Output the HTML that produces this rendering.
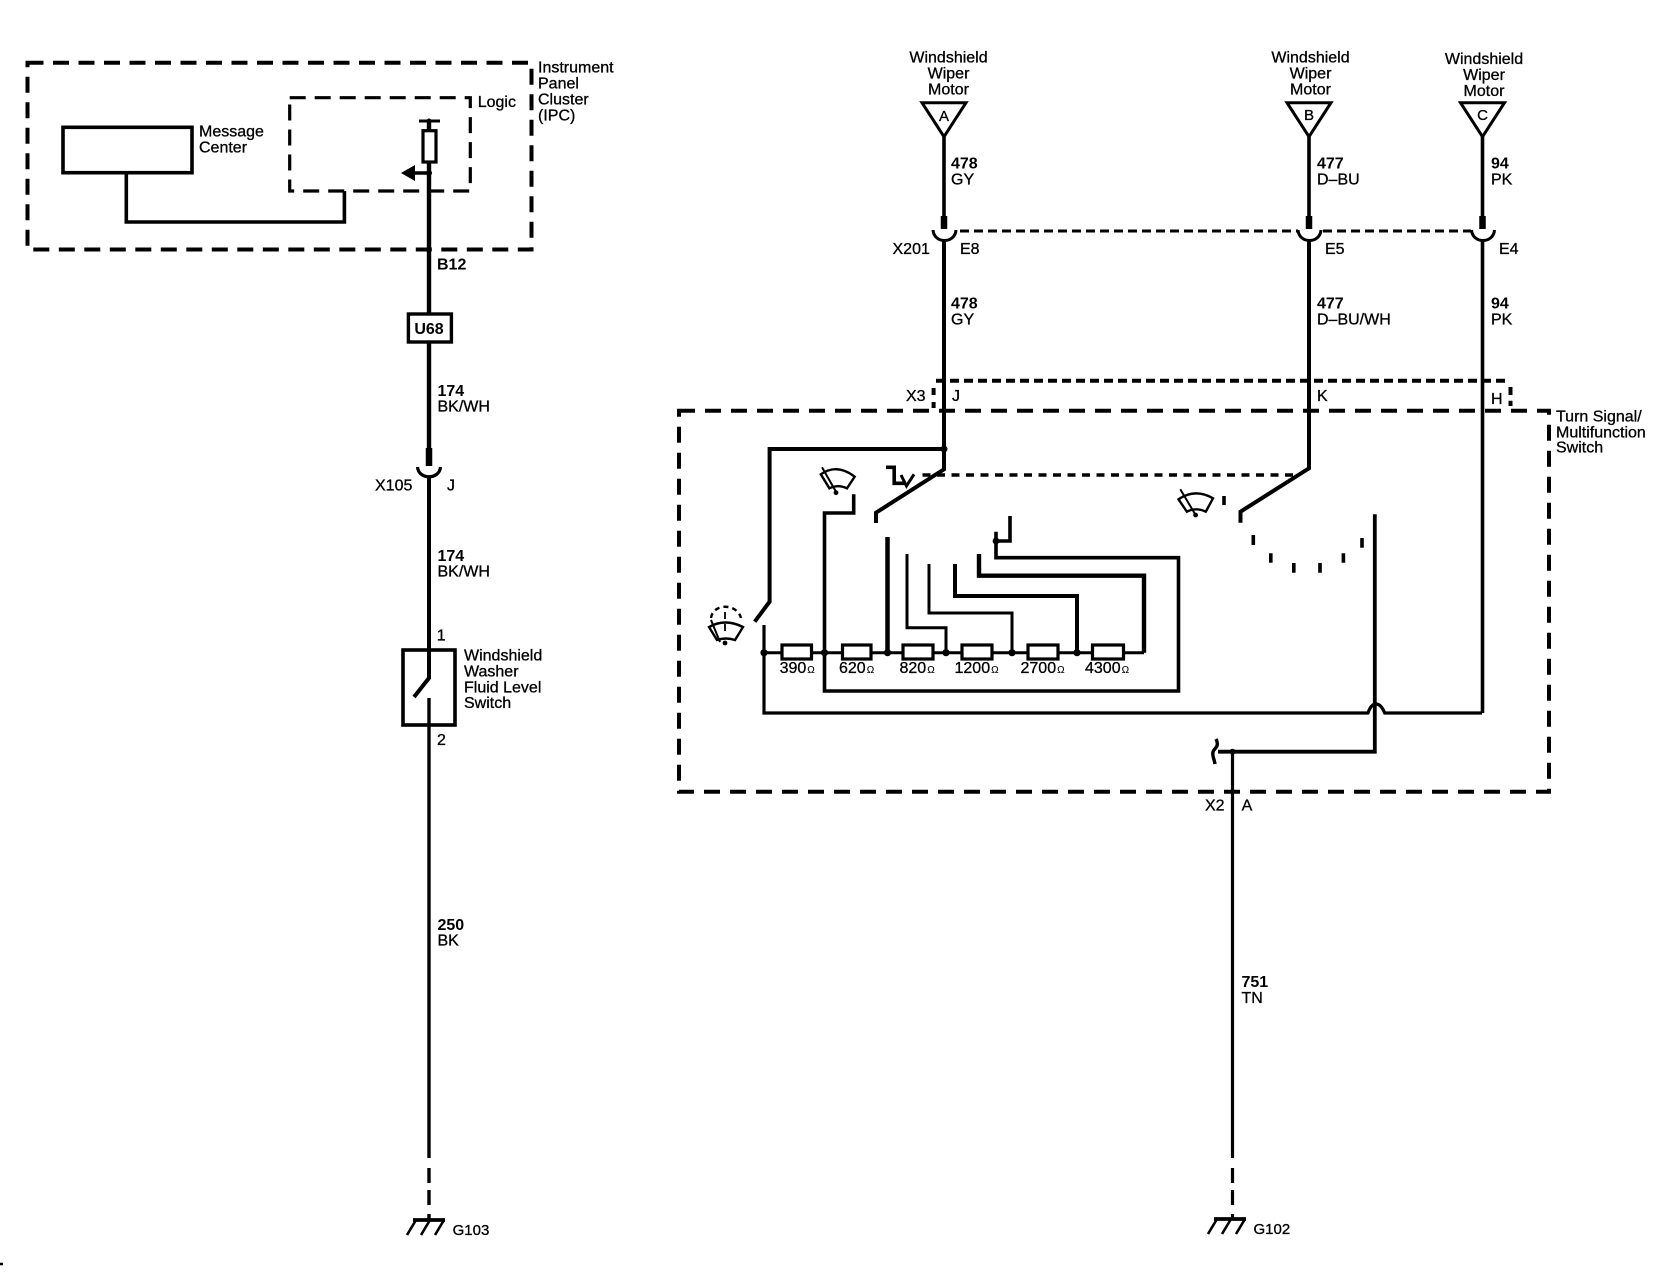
<!DOCTYPE html>
<html><head><meta charset="utf-8"><style>
html,body{margin:0;padding:0;background:#fff}
svg{display:block}
text{font-family:"Liberation Sans",sans-serif;font-size:16px;fill:#000;stroke:#000;stroke-width:.3}
.b{font-weight:bold;stroke-width:0}
.m{text-anchor:middle}
.o{font-size:10px;stroke-width:.1}
.g{font-size:15px}
path,line,rect,polyline{fill:none;stroke:#000}
</style></head><body>
<svg width="1672" height="1280" viewBox="0 0 1672 1280" xmlns="http://www.w3.org/2000/svg">
<rect width="1672" height="1280" style="fill:#fff;stroke:none"/>
<!-- IPC -->
<rect x="27.5" y="62.7" width="504" height="186.8" stroke-width="4" stroke-dasharray="16 9.5"/>
<rect x="289.7" y="97.7" width="180.6" height="93.3" stroke-width="3.2" stroke-dasharray="16 9"/>
<rect x="63" y="127.3" width="129" height="45.4" stroke-width="3.6"/>
<path d="M126.3 172.7V222H344.4V191" stroke-width="3.6"/>
<path d="M429 121V314M429 342V448" stroke-width="4.4"/>
<path d="M419 121H440" stroke-width="3"/>
<rect x="423" y="130.7" width="13" height="31.3" stroke-width="3.2" style="fill:#fff"/>
<circle cx="429" cy="121" r="2.5" style="fill:#000"/>
<circle cx="429" cy="173" r="3" style="fill:#000"/>
<path d="M429 173H412" stroke-width="3.6"/>
<path d="M401 173L415 165V181Z" style="fill:#000;stroke:none"/>
<rect x="408.4" y="314" width="43" height="28" stroke-width="3.4"/>
<!-- left lower wire -->
<path d="M429 448V466" stroke-width="6.5"/>
<path d="M417.5 467C418.5 480 439.5 480 440.5 467" stroke-width="3.2"/>
<path d="M429 477V678L414 697" stroke-width="4"/>
<path d="M429 698V1158M429 1168V1183M429 1190V1205M429 1214V1220" stroke-width="3.4"/>
<rect x="403" y="650" width="52" height="75" stroke-width="3.6"/>
<!-- G103 -->
<path d="M413 1220H445" stroke-width="3.8"/>
<path d="M416 1220L407 1235M430 1220L421 1235M444 1220L435 1235" stroke-width="2.6"/>
<!-- right wires top -->
<path d="M922 102.7H966L944 136.7Z" stroke-width="3" stroke-linejoin="miter"/>
<path d="M1287 102.7H1331L1309 136.7Z" stroke-width="3"/>
<path d="M1460.5 102.7H1504.5L1482.5 136.7Z" stroke-width="3"/>
<path d="M944 136V216M1309 136V216M1482.5 136V216" stroke-width="3.6"/>
<path d="M944 216V229M1309 216V229M1482.5 216V229" stroke-width="6.5"/>
<path d="M933 230C934 244 955 244 956 230M1298 230C1299 244 1320 244 1321 230M1471.5 230C1472.5 244 1493.5 244 1494.5 230" stroke-width="3"/>
<path d="M960 231H1298M1323 231H1471" stroke-width="3" stroke-dasharray="9 5"/>
<!-- X3 dashed -->
<path d="M936 380.7H1508" stroke-width="4" stroke-dasharray="9 5"/>
<path d="M933.6 388V395M933.6 402V408M1510.5 387V395M1510.5 400.7V406" stroke-width="4"/>
<!-- switch box -->
<rect x="679" y="410.7" width="870" height="381" stroke-width="4" stroke-dasharray="16 10"/>
<!-- wire A -->
<path d="M944 241V469.3L876 512.7V523" stroke-width="4"/>
<path d="M944 449H769.6V601.7L754.7 621.7" stroke-width="4"/>
<circle cx="944" cy="449" r="3.5" style="fill:#000"/>
<path d="M922.5 475H1293.4" stroke-width="3.4" stroke-dasharray="8 6.5"/>
<!-- symbol -->
<path d="M886 467.3H894.2V483.3H906" stroke-width="3.6"/>
<path d="M901 475L906.5 486L914 474.3" stroke-width="3"/>
<!-- wiper 1 -->
<path d="M820.8 474.3Q837 463 854.7 476.7L847 488.3Q838 484 829.4 488.3Z" stroke-width="2.4"/>
<path d="M822 467.3L836 491.7" stroke-width="2"/>
<circle cx="836" cy="492.7" r="2.4" style="fill:#000"/>
<!-- wiper 2 -->
<path d="M1178.5 499.3Q1195 488 1213 498.3L1205.8 511.7Q1196 507 1186.9 511.7Z" stroke-width="2.4"/>
<path d="M1180.3 489.3L1195.6 515" stroke-width="2"/>
<circle cx="1195.6" cy="515" r="2.4" style="fill:#000"/>
<path d="M1224 496V505" stroke-width="3.6"/>
<!-- wiper 3 -->
<path d="M709 627Q725 618 743 627L735 640Q726 637 717 640Z" stroke-width="2.4"/>
<path d="M711 620L720 642" stroke-width="2"/>
<circle cx="725" cy="643" r="2.4" style="fill:#000"/>
<path d="M711 618C713 603 737 603 741 618" stroke-width="2.4" stroke-dasharray="5 4"/>
<path d="M725 612V619M725 624V631" stroke-width="1.8"/>
<!-- lower contact loop -->
<path d="M764 625V713H1368Q1371 704 1376 704Q1381 704 1384.7 713H1482" stroke-width="3.2"/>
<path d="M764 652.7H1144" stroke-width="3"/>
<g stroke-width="3.2">
<rect x="782" y="645" width="29.5" height="14" style="fill:#fff"/>
<rect x="842.5" y="645" width="28.5" height="14" style="fill:#fff"/>
<rect x="903" y="645" width="30" height="14" style="fill:#fff"/>
<rect x="962" y="645" width="30" height="14" style="fill:#fff"/>
<rect x="1028" y="645" width="30" height="14" style="fill:#fff"/>
<rect x="1092.5" y="645" width="31" height="14" style="fill:#fff"/>
</g>
<g>
<circle cx="764" cy="652.7" r="3.6" style="fill:#000"/>
<circle cx="824.5" cy="652.7" r="3.6" style="fill:#000"/>
<circle cx="887.5" cy="652.7" r="3.6" style="fill:#000"/>
<circle cx="946" cy="652.7" r="3.6" style="fill:#000"/>
<circle cx="1012" cy="652.7" r="3.6" style="fill:#000"/>
<circle cx="1077" cy="652.7" r="3.6" style="fill:#000"/>
<circle cx="996" cy="541" r="3.4" style="fill:#000"/>
</g>
<path d="M1144 652.7V575.7H979V554" stroke-width="4.4"/>
<path d="M1077 652.7V596H955V564" stroke-width="4"/>
<path d="M1012 652.7V613H929V564" stroke-width="3"/>
<path d="M946 652.7V627.7H907V554" stroke-width="3"/>
<path d="M887.5 652.7V537" stroke-width="4.5"/>
<path d="M853.7 494.3V513H824.5V691H1178.5V557.7H996V531.7" stroke-width="3.6"/>
<path d="M996 541H1010V516" stroke-width="3.6"/>
<!-- wire B -->
<path d="M1309 241V468.3L1240.5 511.7V522.7" stroke-width="4"/>
<path d="M1253.3 535V545M1270.8 553.3V562.7M1293.8 563V572.7M1320 563V572.7M1343.4 553.3V562.7M1362 538V547.7" stroke-width="3.6"/>
<!-- wire C -->
<path d="M1482.5 241V713" stroke-width="3.6"/>
<!-- Tan wire -->
<path d="M1374.8 514.3V751.7H1218" stroke-width="3.8"/>
<path d="M1216 739C1220 747 1214 748 1213 752C1212 756 1214 758 1215 764" stroke-width="3.4"/>
<circle cx="1232.5" cy="751.7" r="3" style="fill:#000"/>
<path d="M1232.5 752V1158M1232.5 1168V1183M1232.5 1190V1205M1232.5 1214V1219" stroke-width="3.2"/>
<path d="M1214 1219H1246" stroke-width="3.8"/>
<path d="M1217 1219L1208 1234M1231 1219L1222 1234M1245 1219L1236 1234" stroke-width="2.6"/>
<!-- tiny mark -->
<path d="M0 1264H3" stroke-width="2.5"/>

<!-- text -->
<text x="538" y="72.7">Instrument</text>
<text x="538" y="88.7">Panel</text>
<text x="538" y="104.7">Cluster</text>
<text x="538" y="120.7">(IPC)</text>
<text x="477.7" y="107">Logic</text>
<text x="199" y="136.7">Message</text>
<text x="199" y="152.7">Center</text>
<text x="437" y="269.3" class="b">B12</text>
<text x="429" y="334" class="m b">U68</text>
<text x="437.5" y="396" class="b">174</text>
<text x="437.5" y="411.5">BK/WH</text>
<text x="375" y="490.7">X105</text>
<text x="447" y="490.7">J</text>
<text x="437.5" y="561" class="b">174</text>
<text x="437.5" y="576.7">BK/WH</text>
<text x="436.7" y="640.7">1</text>
<text x="437" y="745">2</text>
<text x="464" y="660.7">Windshield</text>
<text x="464" y="676.7">Washer</text>
<text x="464" y="692.5">Fluid Level</text>
<text x="464" y="708">Switch</text>
<text x="437.5" y="930" class="b">250</text>
<text x="437.5" y="945.5">BK</text>
<text x="452.6" y="1235" class="g">G103</text>
<text x="1253.5" y="1234" class="g">G102</text>

<text x="948.5" y="62.7" class="m">Windshield</text>
<text x="948.5" y="78.7" class="m">Wiper</text>
<text x="948.5" y="94.7" class="m">Motor</text>
<text x="1310.5" y="62.7" class="m">Windshield</text>
<text x="1310.5" y="78.7" class="m">Wiper</text>
<text x="1310.5" y="94.7" class="m">Motor</text>
<text x="1484" y="64" class="m">Windshield</text>
<text x="1484" y="80" class="m">Wiper</text>
<text x="1484" y="96" class="m">Motor</text>
<text x="944" y="121" class="m g">A</text>
<text x="1309" y="120" class="m g">B</text>
<text x="1482.5" y="120" class="m g">C</text>

<text x="951" y="168.3" class="b">478</text>
<text x="951" y="184.3">GY</text>
<text x="1317" y="168.3" class="b">477</text>
<text x="1317" y="184.3">D–BU</text>
<text x="1491" y="168.3" class="b">94</text>
<text x="1491" y="184.3">PK</text>
<text x="892.5" y="254">X201</text>
<text x="960" y="254">E8</text>
<text x="1325" y="254">E5</text>
<text x="1499" y="254">E4</text>
<text x="951" y="308.3" class="b">478</text>
<text x="951" y="324.3">GY</text>
<text x="1317" y="308.3" class="b">477</text>
<text x="1317" y="324.3">D–BU/WH</text>
<text x="1491" y="308.3" class="b">94</text>
<text x="1491" y="324.3">PK</text>
<text x="906" y="401">X3</text>
<text x="952" y="401">J</text>
<text x="1317" y="401">K</text>
<text x="1491" y="404">H</text>
<text x="1556" y="421.3">Turn Signal/</text>
<text x="1556" y="437.3">Multifunction</text>
<text x="1556" y="452.3">Switch</text>
<text x="1205" y="810.7">X2</text>
<text x="1241.6" y="810.7">A</text>
<text x="1241.5" y="987" class="b">751</text>
<text x="1241.5" y="1003">TN</text>

<text x="779.6" y="673">390<tspan class="o" dx="1">Ω</tspan></text>
<text x="839" y="673">620<tspan class="o" dx="1">Ω</tspan></text>
<text x="899.5" y="673">820<tspan class="o" dx="1">Ω</tspan></text>
<text x="954.5" y="673">1200<tspan class="o" dx="1">Ω</tspan></text>
<text x="1020.5" y="673">2700<tspan class="o" dx="1">Ω</tspan></text>
<text x="1085" y="673">4300<tspan class="o" dx="1">Ω</tspan></text>
</svg>
</body></html>
